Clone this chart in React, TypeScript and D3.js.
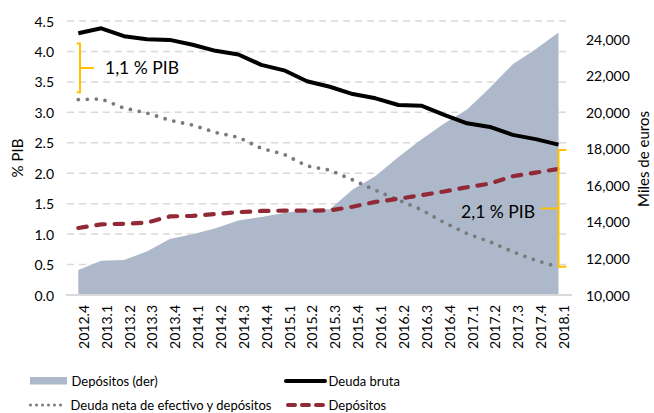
import React from "react";
import * as d3 from "d3";

const categories = [
  "2012.4", "2013.1", "2013.2", "2013.3", "2013.4", "2014.1", "2014.2", "2014.3",
  "2014.4", "2015.1", "2015.2", "2015.3", "2015.4", "2016.1", "2016.2", "2016.3",
  "2016.4", "2017.1", "2017.2", "2017.3", "2017.4", "2018.1",
];

// right axis, miles de euros
const depositosDer = [
  11370, 11870, 11920, 12380, 13070, 13330, 13660, 14080, 14270, 14490, 14670,
  14700, 15770, 16510, 17550, 18510, 19390, 20160, 21350, 22630, 23450, 24370,
];

// left axis, % PIB
const deudaBruta = [
  4.3, 4.38, 4.25, 4.2, 4.19, 4.11, 4.01, 3.95, 3.78, 3.69, 3.51, 3.42, 3.3,
  3.23, 3.12, 3.11, 2.96, 2.82, 2.76, 2.63, 2.56, 2.47,
];
const deudaNeta = [
  3.21, 3.22, 3.07, 2.99, 2.87, 2.79, 2.67, 2.59, 2.41, 2.31, 2.12, 2.05, 1.89,
  1.72, 1.56, 1.4, 1.19, 1.01, 0.875, 0.71, 0.57, 0.46,
];
const depositos = [
  1.1, 1.16, 1.17, 1.19, 1.29, 1.3, 1.33, 1.36, 1.38, 1.385, 1.385, 1.39, 1.45,
  1.53, 1.58, 1.64, 1.7, 1.77, 1.83, 1.95, 2.01, 2.07,
];

const leftTicks = [0, 0.5, 1, 1.5, 2, 2.5, 3, 3.5, 4, 4.5];
const rightTicks = [10000, 12000, 14000, 16000, 18000, 20000, 22000, 24000];

const FONT = "Lato, 'Open Sans', sans-serif";
const ORANGE = "#ffc000";

export default function App() {
  const x = d3.scalePoint<string>().domain(categories).range([78.3, 558.5]);
  const yL = d3.scaleLinear().domain([0, 4.5]).range([295, 21]);
  const yR = d3.scaleLinear().domain([10000, 25000]).range([295, 21]);

  const area = d3
    .area<number>()
    .x((_, i) => x(categories[i])!)
    .y0(yR(10000))
    .y1((d) => yR(d));

  const line = d3
    .line<number>()
    .x((_, i) => x(categories[i])!)
    .y((d) => yL(d));

  const fmtL = d3.format(".1f");
  const fmtR = d3.format(",");

  const x0 = x(categories[0])!;
  const xN = x(categories[categories.length - 1])!;

  return (
    <svg
      width={654}
      height={413}
      style={{ position: "absolute", left: 0, top: 0, background: "#fff" }}
      fontFamily={FONT}
    >
      {/* gridlines */}
      {leftTicks.slice(1).map((t) => (
        <line
          key={t}
          x1={67}
          x2={571}
          y1={yL(t)}
          y2={yL(t)}
          stroke="#d9d9d9"
          strokeWidth={1.5}
          strokeDasharray="7,5"
        />
      ))}

      <path d={area(depositosDer)!} fill="#adb9ca" />

      <line x1={66} x2={572} y1={yL(0)} y2={yL(0)} stroke="#d9d9d9" strokeWidth={2} />

      <path
        d={line(deudaNeta)!}
        fill="none"
        stroke="#7a7a7a"
        strokeWidth={3.8}
        strokeLinecap="round"
        strokeDasharray="0,9"
      />
      <path
        d={line(depositos)!}
        fill="none"
        stroke="#912a36"
        strokeWidth={4.2}
        strokeLinecap="round"
        strokeDasharray="8.5,9.8"
      />
      <path
        d={line(deudaBruta)!}
        fill="none"
        stroke="#000"
        strokeWidth={4}
        strokeLinejoin="round"
      />

      {/* left axis */}
      {leftTicks.map((t) => (
        <text
          key={t}
          x={54}
          y={yL(t)}
          textAnchor="end"
          dominantBaseline="central"
          fontSize={14}
          fill="#000"
        >
          {fmtL(t)}
        </text>
      ))}
      <text
        transform={`translate(17,158) rotate(-90)`}
        textAnchor="middle"
        dominantBaseline="central"
        fontSize={15}
      >
        % PIB
      </text>

      {/* right axis */}
      {rightTicks.map((t) => (
        <text
          key={t}
          x={586}
          y={yR(t)}
          dominantBaseline="central"
          fontSize={14}
          fill="#000"
        >
          {fmtR(t)}
        </text>
      ))}
      <text
        transform={`translate(643,159) rotate(-90)`}
        textAnchor="middle"
        dominantBaseline="central"
        fontSize={15}
      >
        Miles de euros
      </text>

      {/* x labels */}
      {categories.map((c) => (
        <text
          key={c}
          transform={`translate(${x(c)! + 5},305) rotate(-90)`}
          textAnchor="end"
          dominantBaseline="central"
          fontSize={14}
        >
          {c}
        </text>
      ))}

      {/* annotation 1,1 % PIB */}
      <path
        d={`M${x0 - 1.6},${yL(4.13)} H${x0 + 1.7} V${yL(3.33)} H${x0 - 1.6} M${x0 + 1.7},${yL(3.73)} H${x0 + 15.5}`}
        fill="none"
        stroke={ORANGE}
        strokeWidth={2}
      />
      <text x={105} y={74} fontSize={17.5}>
        1,1 % PIB
      </text>

      {/* annotation 2,1 % PIB */}
      <path
        d={`M${xN + 8},${yL(2.38)} H${xN} V${yL(0.465)} H${xN + 8} M${xN},${yL(1.42)} H${xN - 17.5}`}
        fill="none"
        stroke={ORANGE}
        strokeWidth={2}
      />
      <text x={535} y={218} fontSize={17.5} textAnchor="end">
        2,1 % PIB
      </text>

      {/* legend */}
      <g fontSize={13}>
        <rect x={30} y={377} width={37} height={7.5} fill="#adb9ca" />
        <text x={71.5} y={381} dominantBaseline="central">
          Depósitos (der)
        </text>
        <line x1={30.5} x2={61} y1={405} y2={405} stroke="#7a7a7a" strokeWidth={3} strokeLinecap="round" strokeDasharray="0,6" />
        <text x={70.5} y={405} dominantBaseline="central">
          Deuda neta de efectivo y depósitos
        </text>
        <line x1={286} x2={325} y1={381} y2={381} stroke="#000" strokeWidth={4} strokeLinecap="round" />
        <text x={328.5} y={381} dominantBaseline="central">
          Deuda bruta
        </text>
        <line x1={288} x2={324} y1={405} y2={405} stroke="#912a36" strokeWidth={4} strokeLinecap="round" strokeDasharray="7,7" />
        <text x={328.5} y={405} dominantBaseline="central">
          Depósitos
        </text>
      </g>
    </svg>
  );
}
